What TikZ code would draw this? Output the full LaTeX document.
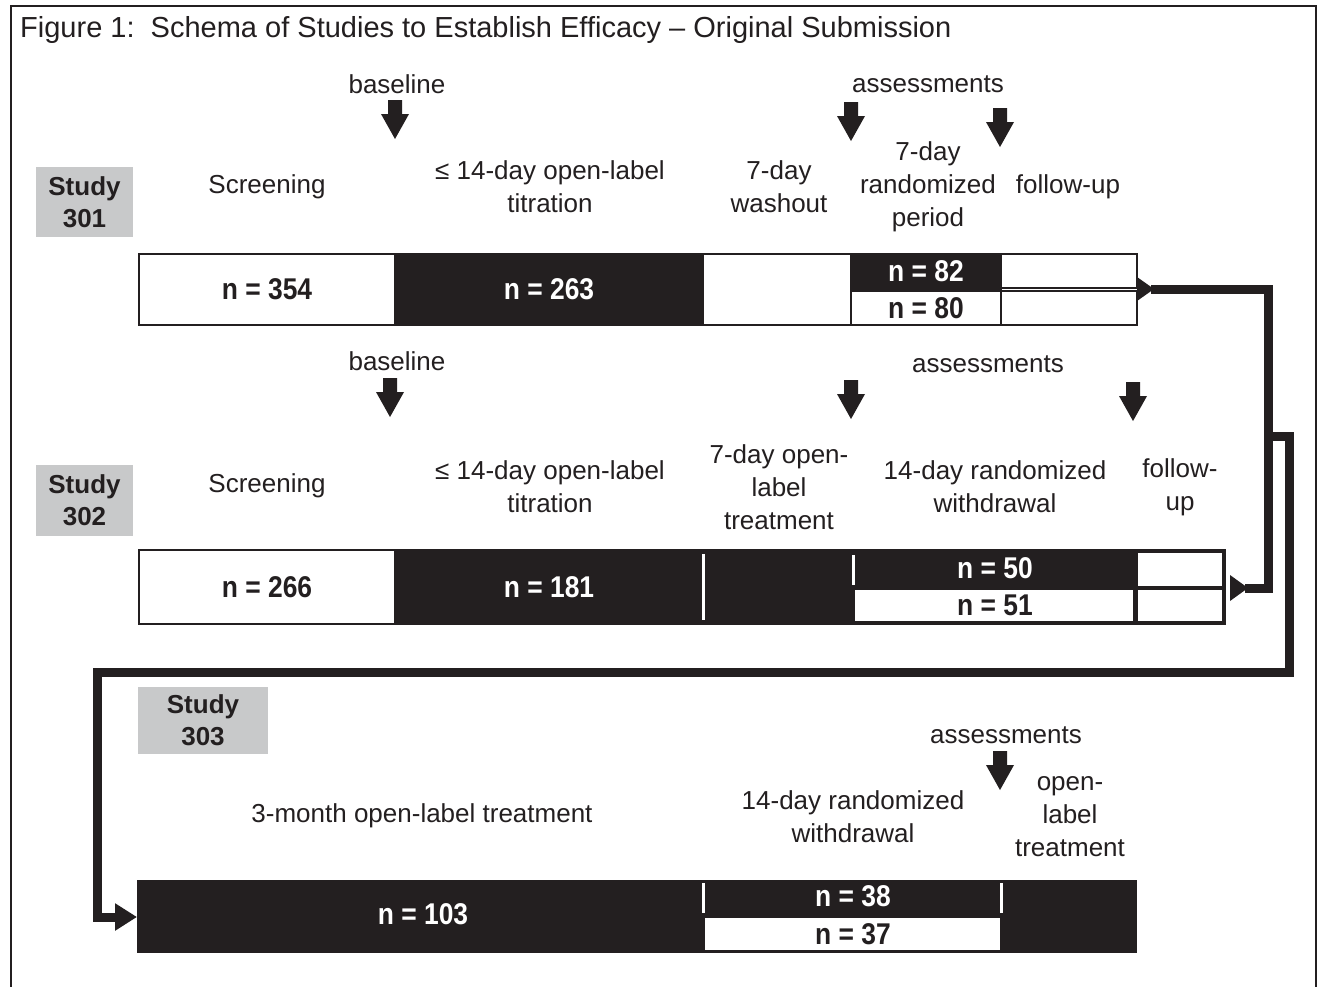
\documentclass[tikz,border=0pt]{standalone}
\usepackage{fontspec}
\setmainfont{Liberation Sans}
\newfontfamily\nfont{Liberation Sans}[FakeStretch=0.88]
\usetikzlibrary{arrows.meta}
\definecolor{ink}{HTML}{231F20}
\definecolor{studygray}{HTML}{C8C9CA}
\begin{document}
\begin{tikzpicture}[x=1pt,y=-1pt,
  lbl/.style={font=\fontsize{26}{33}\selectfont, align=center, inner sep=0pt, text=ink, yshift=-3pt},
  toplbl/.style={lbl, yshift=3pt},
  study/.style={fill=studygray, font=\fontsize{26}{32}\selectfont\bfseries, align=center, inner sep=0pt, text=ink},
  ncount/.style={font=\nfont\fontsize{30}{30}\selectfont\bfseries, inner sep=0pt},
  cell/.style={draw=ink, line width=2pt},
  tick/.style={draw=white, line width=3pt},
  conn/.style={draw=ink, line width=9pt},
  darrow/.pic={\fill[ink] (-7,0) -- (7,0) -- (7,14) -- (14,14) -- (0,39) -- (-14,14) -- (-7,14) -- cycle;}
]
\useasboundingbox (0,0) rectangle (1319,986);
\fill[white] (0,0) rectangle (1319,986);
% frame
\draw[ink, line width=2pt] (11,990) -- (11,6) -- (1316,6) -- (1316,990);
\node[anchor=west, font=\fontsize{29}{29}\selectfont, inner sep=0pt, text=ink] (title) at (20,30) {Figure 1:\ \ Schema of Studies to Establish Efficacy – Original Submission};

% ---------------- Study 301 ----------------
\node[study, minimum width=97pt, minimum height=70pt] (st301) at (84.5,202) {Study\\301};
\node[toplbl] (base301) at (397,84) {baseline};
\node[toplbl] (ass301) at (928,84) {assessments};
\pic at (395,100) {darrow};
\pic at (851,102) {darrow};
\pic at (1000,108) {darrow};
\node[lbl] (scr301) at (267,184) {Screening};
\node[lbl] (tit301) at (550,184) {≤ 14-day open-label\\titration};
\node[lbl] (wash301) at (779,184) {7-day\\washout};
\node[lbl] (rand301) at (928,184) {7-day\\randomized\\period};
\node[lbl] (fu301) at (1068,184) {follow-up};

\draw[cell, fill=white] (139,254) rectangle (395,325);
\draw[cell, fill=ink] (395,254) rectangle (703,325);
\draw[cell, fill=white] (703,254) rectangle (851,325);
\draw[cell, fill=ink] (851,254) rectangle (1001,289);
\draw[cell, fill=white] (851,291) rectangle (1001,325);
\draw[cell, fill=white] (1001,254) rectangle (1137,288);
\draw[cell, fill=white] (1001,291) rectangle (1137,325);
\node[ncount, text=ink] (n354) at (267,289) {n = 354};
\node[ncount, text=white] (n263) at (549,289) {n = 263};
\node[ncount, text=white] (n82) at (926,271) {n = 82};
\node[ncount, text=ink] (n80) at (926,308) {n = 80};

% ---------------- Study 302 ----------------
\node[study, minimum width=97pt, minimum height=71pt] (st302) at (84.5,500.5) {Study\\302};
\node[toplbl] (base302) at (397,361) {baseline};
\node[toplbl] (ass302) at (988,364) {assessments};
\pic at (390,378) {darrow};
\pic at (851,380) {darrow};
\pic at (1133,382) {darrow};
\node[lbl] (scr302) at (267,483) {Screening};
\node[lbl] (tit302) at (550,484) {≤ 14-day open-label\\titration};
\node[lbl] (ol302) at (779,484) {7-day open-\\label\\treatment};
\node[lbl] (rw302) at (995,484) {14-day randomized\\withdrawal};
\node[lbl] (fu302) at (1180,484) {follow-\\up};

\draw[cell, fill=ink] (139,550) rectangle (1225,624);
\draw[cell, fill=white] (139,550) rectangle (395,624);
\draw[tick] (703,554) -- (703,620);
\draw[tick] (853,555) -- (853,585);
\fill[white] (855,590) rectangle (1133,621);
\fill[white] (1138,553) rectangle (1222,586);
\fill[white] (1138,590) rectangle (1222,621);
\node[ncount, text=ink] (n266) at (267,587) {n = 266};
\node[ncount, text=white] (n181) at (549,587) {n = 181};
\node[ncount, text=white] (n50) at (995,568) {n = 50};
\node[ncount, text=ink] (n51) at (995,605) {n = 51};

% ---------------- Study 303 ----------------
\node[study, minimum width=130pt, minimum height=67pt] (st303) at (203,720.5) {Study\\303};
\node[toplbl] (ass303) at (1006,735) {assessments};
\pic at (1000,751) {darrow};
\node[lbl] (ol303) at (422,813) {3-month open-label treatment};
\node[lbl] (rw303) at (853,814) {14-day randomized\\withdrawal};
\node[lbl] (olt303) at (1070,814) {open-\\label\\treatment};

\fill[ink] (137,880) rectangle (1137,953);
\draw[tick] (703,883) -- (703,913);
\draw[tick] (1001,883) -- (1001,913);
\fill[white] (705,918) rectangle (1000,950);
\node[ncount, text=white] (n103) at (423,914) {n = 103};
\node[ncount, text=white] (n38) at (853,896) {n = 38};
\node[ncount, text=ink] (n37) at (853,934) {n = 37};

% ---------------- connectors ----------------
\coordinate (out301) at (1137,289);
\coordinate (out302) at (1225,588);
\coordinate (in303) at (137,917);
\coordinate (split) at (1268,436);

\fill[ink] ([yshift=12pt]out301) -- ([xshift=17pt]out301) -- ([yshift=-12pt]out301) -- cycle;
\fill[ink] ([xshift=5pt,yshift=13pt]out302) -- ([xshift=23pt]out302) -- ([xshift=5pt,yshift=-13pt]out302) -- cycle;

\draw[conn] ([xshift=14pt]out301) -- (1268,289) -- (1268,588) -- ([xshift=20pt]out302);
\draw[conn, -{Triangle[length=22pt,width=26pt]}] (split) -- (1289,436) -- (1289,672) -- (97,672) -- (97,917) -- (in303);
\end{tikzpicture}
\end{document}
